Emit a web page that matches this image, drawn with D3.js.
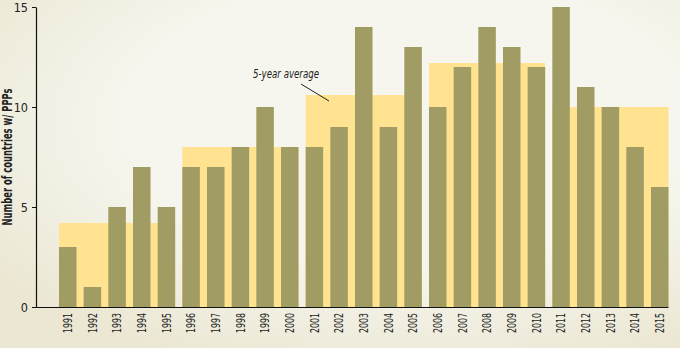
<!DOCTYPE html>
<html>
  <head>
    <meta http-equiv="Content-Type" content="text/html; charset=utf-8" />
    <style>
    body {
      margin: 0;
      background: #f6f6ee;
    }
    svg text {
      font-family: "DejaVu Sans Condensed", "DejaVu Sans", sans-serif;
      font-stretch: condensed;
      fill: #222;
    }
    </style>
  </head>
  <body>
    <div id="chart"></div>
    <script src="https://d3js.org/d3.v7.min.js"></script>
    <script>

var years = ["1991","1992","1993","1994","1995","1996","1997","1998","1999","2000",
             "2001","2002","2003","2004","2005","2006","2007","2008","2009","2010",
             "2011","2012","2013","2014","2015"];
var countries = [3, 1, 5, 7, 5, 7, 7, 8, 10, 8, 8, 9, 14, 9, 13, 10, 12, 14, 13, 12, 15, 11, 10, 8, 6];
var yTicks = [0, 5, 10, 15];
var avgLabel = "5-year average";
var yTitle = "Number of countries w/ PPPs";

var width = 680, height = 348;

var svg = d3.select("#chart").append("svg")
    .attr("width", width)
    .attr("height", height);

// soft beige vignette behind everything
var defs = svg.append("defs");
var grad = defs.append("radialGradient")
    .attr("id", "bg")
    .attr("cx", "60%").attr("cy", "35%").attr("r", "75%");
grad.append("stop").attr("offset", "55%").attr("stop-color", "#f6f6ee");
grad.append("stop").attr("offset", "100%").attr("stop-color", "#ebe7d3");
svg.append("rect")
    .attr("width", width).attr("height", height)
    .attr("fill", "url(#bg)");

var x = d3.scaleBand()
    .domain(years)
    .range([59, 668.5])
    .paddingInner(0.29)
    .paddingOuter(0);

var y = d3.scaleLinear()
    .domain([0, 15])
    .range([307, 7]);

// group years into 5-year blocks and average them
var groups = d3.range(0, years.length, 5).map(function(i) {
  var ys = years.slice(i, i + 5);
  return {
    first: ys[0],
    last: ys[ys.length - 1],
    avg: d3.mean(countries.slice(i, i + 5))
  };
});

svg.selectAll(".avg")
  .data(groups)
  .enter().append("rect")
    .attr("class", "avg")
    .attr("x", function(d) { return x(d.first); })
    .attr("width", function(d) { return x(d.last) + x.bandwidth() - x(d.first); })
    .attr("y", function(d) { return y(d.avg); })
    .attr("height", function(d) { return y(0) - y(d.avg); })
    .attr("fill", "#ffe391");

svg.selectAll(".bar")
  .data(countries)
  .enter().append("rect")
    .attr("class", "bar")
    .attr("x", function(d, i) { return x(years[i]); })
    .attr("width", x.bandwidth())
    .attr("y", function(d) { return y(d); })
    .attr("height", function(d) { return y(0) - y(d); })
    .attr("fill", "#a19c63");

// y axis
var yAxis = svg.append("g")
    .attr("transform", "translate(36,0)")
    .call(d3.axisLeft(y).tickValues(yTicks).tickSize(4).tickSizeOuter(0));
yAxis.select(".domain").attr("stroke", "#111").attr("stroke-width", 1.2);
yAxis.selectAll(".tick line").attr("stroke", "#111");
yAxis.selectAll(".tick text")
    .attr("x", -8)
    .style("font-size", "12.5px");

// x axis
var xAxis = svg.append("g")
    .attr("transform", "translate(0,307)")
    .call(d3.axisBottom(x).tickSize(0));
xAxis.select(".domain")
    .attr("d", "M32,0.5H668.5")
    .attr("stroke", "#111").attr("stroke-width", 1.2);
xAxis.selectAll(".tick text")
    .attr("transform", "rotate(-90)")
    .attr("x", -6)
    .attr("y", 0)
    .attr("dy", "0.36em")
    .attr("textLength", 20)
    .attr("lengthAdjust", "spacingAndGlyphs")
    .style("text-anchor", "end")
    .style("font-size", "12px");

svg.append("text")
    .attr("transform", "translate(12,157) rotate(-90)")
    .attr("textLength", 137)
    .attr("lengthAdjust", "spacingAndGlyphs")
    .style("text-anchor", "middle")
    .style("font-size", "13.5px")
    .style("font-weight", "bold")
    .text(yTitle);

// annotation for the average blocks
svg.append("text")
    .attr("x", 253)
    .attr("y", 78)
    .attr("textLength", 66)
    .attr("lengthAdjust", "spacingAndGlyphs")
    .style("font-size", "13px")
    .style("font-style", "italic")
    .text(avgLabel);

svg.append("line")
    .attr("x1", 301).attr("y1", 84)
    .attr("x2", 329).attr("y2", 101)
    .attr("stroke", "#222")
    .attr("stroke-width", 1);

    </script>
  </body>
</html>
